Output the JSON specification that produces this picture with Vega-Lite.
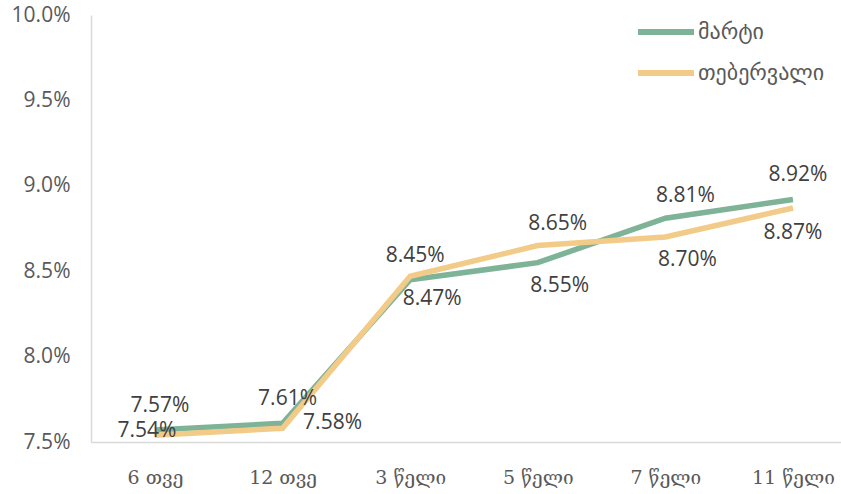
{
  "$schema": "https://vega.github.io/schema/vega-lite/v6.json",
  "autosize": "none",
  "width": 750,
  "height": 427,
  "padding": {"left": 91, "top": 15, "right": 0, "bottom": 52},
  "background": "white",
  "config": {"view": {"stroke": null}},
  "data": {
    "values": [
      {"term": "6 თვე", "series": "მარტი", "value": 0.0757},
      {"term": "12 თვე", "series": "მარტი", "value": 0.0761},
      {"term": "3 წელი", "series": "მარტი", "value": 0.0845},
      {"term": "5 წელი", "series": "მარტი", "value": 0.0855},
      {"term": "7 წელი", "series": "მარტი", "value": 0.0881},
      {"term": "11 წელი", "series": "მარტი", "value": 0.0892},
      {"term": "6 თვე", "series": "თებერვალი", "value": 0.0754},
      {"term": "12 თვე", "series": "თებერვალი", "value": 0.0758},
      {"term": "3 წელი", "series": "თებერვალი", "value": 0.0847},
      {"term": "5 წელი", "series": "თებერვალი", "value": 0.0865},
      {"term": "7 წელი", "series": "თებერვალი", "value": 0.0870},
      {"term": "11 წელი", "series": "თებერვალი", "value": 0.0887}
    ]
  },
  "encoding": {
    "x": {
      "field": "term", "type": "ordinal", "sort": null,
      "scale": {"type": "point", "padding": 0.439, "align": 0.571},
      "axis": {
        "title": null, "labelAngle": 0, "ticks": false, "grid": false,
        "domainColor": "#D9D9D9", "domainWidth": 1.5,
        "labelFont": "DejaVu Serif", "labelFontSize": 19, "labelColor": "#595959",
        "labelPadding": 26, "labelBaseline": "top"
      }
    },
    "y": {
      "field": "value", "type": "quantitative",
      "scale": {"domain": [0.075, 0.1], "nice": false, "zero": false},
      "axis": {
        "title": null, "format": ".1%", "values": [0.075, 0.08, 0.085, 0.09, 0.095, 0.1],
        "ticks": false, "grid": false,
        "domainColor": "#D9D9D9", "domainWidth": 1.5,
        "labelFont": "Open Sans", "labelFontSize": 21, "labelColor": "#595959",
        "labelPadding": 21
      }
    }
  },
  "layer": [
    {
      "transform": [{"filter": "datum.series == 'მარტი'"}],
      "mark": {"type": "line", "strokeWidth": 5.5},
      "encoding": {
        "color": {
          "field": "series", "type": "nominal",
          "scale": {"domain": ["მარტი", "თებერვალი"], "range": ["#7EB398", "#F3CB88"]},
          "legend": {
            "title": null, "orient": "none", "legendX": 544, "legendY": 4,
            "direction": "vertical",
            "symbolType": "M-1,0H4.6", "symbolSize": 400, "symbolStrokeWidth": 6,
            "labelFont": "DejaVu Sans", "labelFontSize": 22, "labelColor": "#595959",
            "labelOffset": 37, "rowPadding": 16,
            "symbolFillColor": "transparent",
            "symbolOpacity": 1
          }
        }
      }
    },
    {
      "transform": [{"filter": "datum.series == 'თებერვალი'"}],
      "mark": {"type": "line", "strokeWidth": 5.5},
      "encoding": {
        "color": {"field": "series", "type": "nominal"}
      }
    },
    {
      "transform": [{"filter": "datum.series == 'მარტი' && (datum.term == '6 თვე' || datum.term == '12 თვე' || datum.term == '3 წელი' || datum.term == '11 წელი')"}],
      "mark": {"type": "text", "font": "Open Sans", "fontSize": 21, "color": "#404040", "dy": -24, "dx": 5, "baseline": "middle"},
      "encoding": {"text": {"field": "value", "type": "quantitative", "format": ".2%"}}
    },
    {
      "transform": [{"filter": "(datum.series == 'თებერვალი' && datum.term == '5 წელი') || (datum.series == 'მარტი' && datum.term == '7 წელი')"}],
      "mark": {"type": "text", "font": "Open Sans", "fontSize": 21, "color": "#404040", "dy": -22, "dx": 20, "baseline": "middle"},
      "encoding": {"text": {"field": "value", "type": "quantitative", "format": ".2%"}}
    },
    {
      "transform": [{"filter": "(datum.series == 'მარტი' && datum.term == '5 წელი') || (datum.series == 'თებერვალი' && (datum.term == '7 წელი' || datum.term == '3 წელი'))"}],
      "mark": {"type": "text", "font": "Open Sans", "fontSize": 21, "color": "#404040", "dy": 23, "dx": 22, "baseline": "middle"},
      "encoding": {"text": {"field": "value", "type": "quantitative", "format": ".2%"}}
    },
    {
      "transform": [{"filter": "datum.series == 'თებერვალი' && datum.term == '11 წელი'"}],
      "mark": {"type": "text", "font": "Open Sans", "fontSize": 21, "color": "#404040", "dy": 25, "dx": 0, "baseline": "middle"},
      "encoding": {"text": {"field": "value", "type": "quantitative", "format": ".2%"}}
    },
    {
      "transform": [{"filter": "datum.series == 'თებერვალი' && datum.term == '6 თვე'"}],
      "mark": {"type": "text", "font": "Open Sans", "fontSize": 21, "color": "#404040", "dy": -4, "dx": -8, "baseline": "middle"},
      "encoding": {"text": {"field": "value", "type": "quantitative", "format": ".2%"}}
    },
    {
      "transform": [{"filter": "datum.series == 'თებერვალი' && datum.term == '12 თვე'"}],
      "mark": {"type": "text", "font": "Open Sans", "fontSize": 21, "color": "#404040", "dy": -5, "dx": 50, "baseline": "middle"},
      "encoding": {"text": {"field": "value", "type": "quantitative", "format": ".2%"}}
    }
  ]
}
